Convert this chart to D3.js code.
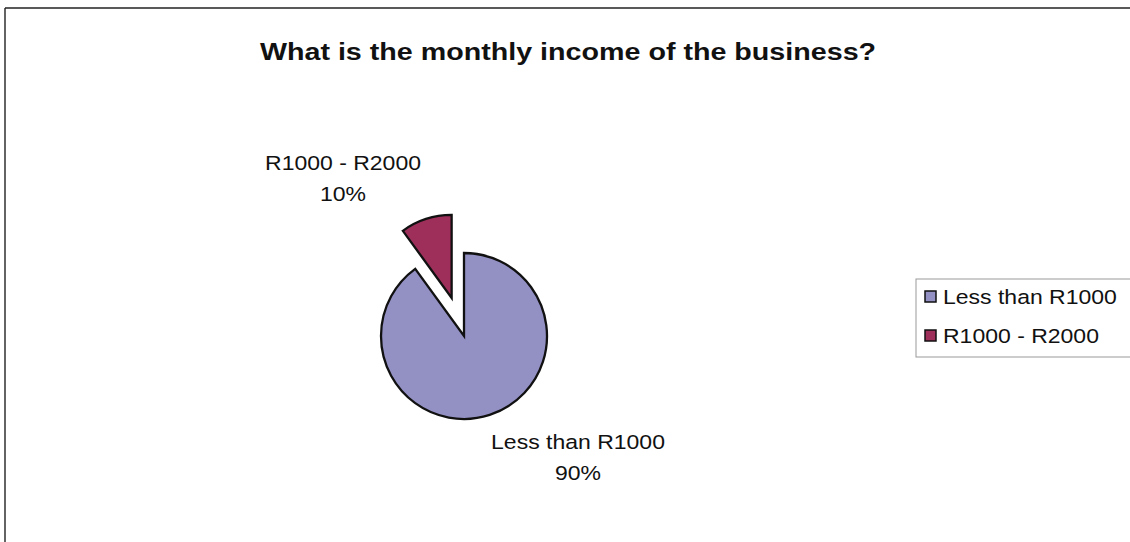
<!DOCTYPE html>
<html>
<head>
<meta charset="utf-8">
<script src="https://cdn.jsdelivr.net/npm/d3@7"></script>
<style>
  html, body { margin: 0; padding: 0; background: #fff; }
  svg { display: block; font-family: "Liberation Sans", Arial, sans-serif; }
</style>
</head>
<body>
<svg id="chart" width="1130" height="542"></svg>
<script>
// Survey answers: monthly income of the business
const categories = ["Less than R1000", "R1000 - R2000"];
const shares = [90, 10];
const colors = ["#9390c4", "#9e2f5a"];
const title = "What is the monthly income of the business?";

const svg = d3.select("#chart");
const W = 1130, H = 542;
const cx = 464, cy = 336, radius = 83, explode = 40;
const stretch = 1.18;   // wide typeface look

// chart frame (top and left edges)
svg.append("line").attr("x1", 5).attr("y1", 8).attr("x2", W).attr("y2", 8)
  .attr("stroke", "#222").attr("stroke-width", 1.6);
svg.append("line").attr("x1", 5).attr("y1", 8).attr("x2", 5).attr("y2", H)
  .attr("stroke", "#222").attr("stroke-width", 1.4);

// title
svg.append("text")
  .attr("transform", `translate(568,60) scale(1.17,1)`)
  .attr("text-anchor", "middle")
  .attr("font-size", 24.5).attr("font-weight", "bold").attr("fill", "#111")
  .text(title);

const data = categories.map((c, i) => ({ name: c, value: shares[i], color: colors[i] }));
const total = d3.sum(shares);

const pie = d3.pie().sort(null).value(d => d.value);
const arcs = pie(data);
const arc = d3.arc().innerRadius(0).outerRadius(radius);

const g = svg.append("g").attr("transform", `translate(${cx},${cy})`);
g.selectAll("path")
  .data(arcs)
  .join("path")
  .attr("transform", (d, i) => {
    if (i === 0) return null;
    const mid = (d.startAngle + d.endAngle) / 2;
    return `translate(${explode * Math.sin(mid)},${-explode * Math.cos(mid)})`;
  })
  .attr("d", arc)
  .attr("fill", d => d.data.color)
  .attr("stroke", "#111")
  .attr("stroke-width", 2.3)
  .attr("stroke-linejoin", "miter");

// data labels: category name and percentage
const labelPos = [
  { x: 578, y: 449 },
  { x: 343, y: 170 }
];
const fmt = d3.format(".0%");
arcs.forEach((d, i) => {
  const t = svg.append("text")
    .attr("transform", `translate(${labelPos[i].x},${labelPos[i].y}) scale(${stretch},1)`)
    .attr("text-anchor", "middle")
    .attr("font-size", 19.5).attr("fill", "#111");
  t.append("tspan").attr("x", 0).attr("y", 0).text(d.data.name);
  t.append("tspan").attr("x", 0).attr("y", 31).text(fmt(d.data.value / total));
});

// legend
const lg = svg.append("g");
lg.append("rect").attr("x", 916).attr("y", 279).attr("width", 240).attr("height", 78)
  .attr("fill", "#fff").attr("stroke", "#999").attr("stroke-width", 1);
const rowY = [297, 336];
data.forEach((d, i) => {
  lg.append("rect").attr("x", 925).attr("y", rowY[i] - 6).attr("width", 11).attr("height", 11)
    .attr("fill", d.color).attr("stroke", "#111").attr("stroke-width", 1.5);
  lg.append("text")
    .attr("transform", `translate(943,${rowY[i] + 7}) scale(${stretch},1)`)
    .attr("font-size", 19.5).attr("fill", "#111")
    .text(d.name);
});
</script>
</body>
</html>
